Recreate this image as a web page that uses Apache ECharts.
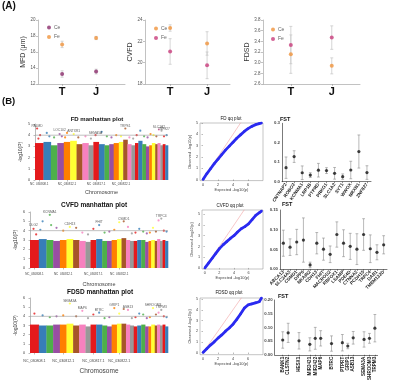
<!DOCTYPE html>
<html><head><meta charset="utf-8">
<script src="https://cdn.jsdelivr.net/npm/echarts@6/dist/echarts.min.js"></script>
<style>html,body{margin:0;padding:0;background:#fff}#c{width:398px;height:383px}</style>
</head><body><div id="c"></div>
<script>
// ---------------- Panel A data ----------------
const groups = ['T', 'J'];
const mfdCe = [13.25, 13.55], mfdCeSd = [0.4, 0.3];
const mfdFe = [16.95, 17.75], mfdFeSd = [0.4, 0.2];
const cvfdCe = [23.25, 21.8], cvfdCeSd = [0.3, 1.1];
const cvfdFe = [21.05, 19.75], cvfdFeSd = [1.2, 1.25];
const fdsdCe = [3.16, 2.94], fdsdCeSd = [0.36, 0.15];
const fdsdFe = [3.33, 3.47], fdsdFeSd = [0.35, 0.22];

// ---------------- Manhattan data ----------------
const chrLen = [157.4,136.5,120.0,120.7,119.0,117.6,108.4,112.7,90.6,101.0,106.2,87.3,83.0,94.6,81.9,79.4,71.8,67.3,62.5,71.8,69.4,60.4,49.3,62.3,42.9,51.3,45.4,46.3,51.3];
const chrColors = ['#E41A1C','#377EB8','#4DAF4A','#984EA3','#FF7F00','#FFFF33','#A65628','#F781BF','#999999'];
const chrTickIdx = [0, 4, 9, 14, 18];
const chrTickLabels = ['NC_030808.1','NC_030812.1','NC_030817.1','NC_030822.1','NC_030826.1'];
const fdBulk   = [3.3,3.4,3.1,3.3,3.4,3.5,3.2,3.3,3.1,3.4,3.2,3.1,3.2,3.3,3.4,3.6,3.2,3.1,3.3,3.5,3.2,3.0,3.1,3.3,3.2,3.3,3.1,3.2,3.1];
const cvfdBulk = [3.0,3.1,3.0,2.9,3.0,3.1,3.0,2.9,2.8,3.0,3.1,2.9,2.9,3.0,3.1,3.2,3.0,2.9,2.9,3.0,3.0,2.8,2.9,3.0,2.9,3.1,2.9,3.0,2.9];
const fdsdBulk = [3.1,3.0,3.0,3.1,3.1,3.2,3.0,3.1,2.9,3.1,3.1,3.0,2.9,3.1,3.2,3.2,3.1,3.0,2.9,3.0,3.1,2.9,2.9,3.1,3.0,3.1,3.0,3.1,2.9];
// hits: [chromosome index, relative position, -log10(P)]
const fdHits = [[0,0.25,4.6],[0,0.6,4.0],[0,0.4,3.7],[1,0.45,4.2],[1,0.8,3.9],[2,0.5,3.8],[3,0.35,4.1],[3,0.7,3.9],[4,0.5,4.2],[4,0.2,3.8],[5,0.55,4.1],[6,0.3,3.8],[7,0.5,3.9],[8,0.5,3.7],[9,0.4,4.0],[10,0.5,4.3],[11,0.5,3.9],[12,0.5,3.8],[13,0.5,4.0],[14,0.5,3.9],[15,0.5,4.6],[16,0.5,3.8],[17,0.5,3.7],[18,0.5,4.0],[19,0.5,4.4],[20,0.5,3.9],[21,0.5,3.8],[22,0.5,4.1],[23,0.5,4.0],[24,0.5,3.9],[25,0.5,4.5],[26,0.5,4.4],[27,0.5,3.9],[28,0.5,4.0]];
const cvfdHits = [[0,0.4,4.2],[0,0.7,3.6],[1,0.5,5.0],[1,0.2,4.1],[2,0.5,5.7],[2,0.7,4.6],[3,0.5,4.3],[4,0.5,4.0],[5,0.5,4.4],[6,0.5,4.3],[7,0.5,3.8],[8,0.5,3.6],[9,0.5,4.2],[10,0.5,4.6],[11,0.5,3.8],[12,0.5,3.9],[13,0.5,4.1],[14,0.5,4.9],[15,0.5,5.0],[16,0.5,4.4],[17,0.5,3.7],[18,0.5,3.8],[19,0.5,4.2],[20,0.5,3.9],[21,0.5,3.7],[22,0.5,3.8],[23,0.5,4.3],[24,0.5,3.9],[25,0.5,5.1],[26,0.5,5.3],[27,0.5,4.0],[28,0.5,3.9]];
const fdsdHits = [[0,0.5,4.3],[1,0.5,4.1],[2,0.5,3.9],[3,0.5,4.0],[4,0.5,4.1],[5,0.5,5.4],[6,0.5,4.0],[7,0.5,4.6],[8,0.5,3.8],[9,0.5,4.2],[10,0.5,4.4],[11,0.5,3.8],[12,0.5,3.9],[13,0.5,4.9],[14,0.5,4.3],[15,0.5,4.8],[16,0.5,4.7],[17,0.5,3.8],[18,0.5,3.9],[19,0.5,4.3],[20,0.5,4.2],[21,0.5,3.8],[22,0.5,3.9],[23,0.5,4.9],[24,0.5,4.2],[25,0.5,4.4],[26,0.5,4.7],[27,0.5,4.0],[28,0.5,3.9]];
const fdTags   = [[0,0.25,4.6,'PALMD'],[3,0.35,4.2,'LOC102'],[5,0.55,4.1,'ANTXR1'],[9,0.4,4.0,'SEMA5A'],[15,0.5,4.6,'TRPS1'],[25,0.5,4.5,'SLC1A2'],[27,0.5,4.3,'ZNF827']];
const cvfdTags = [[0,0.4,4.3,'DLG2'],[2,0.5,5.7,'KCNMA1'],[5,0.5,4.4,'CDH13'],[10,0.5,4.6,'FHIT'],[15,0.5,5.0,'CSMD1'],[26,0.5,5.3,'TRPC4']];
const fdsdTags = [[5,0.5,5.4,'SEMA3A'],[7,0.5,4.6,'MAP6'],[10,0.5,4.4,'BTRC'],[13,0.5,4.9,'GRIP1'],[16,0.5,4.7,'ASB13'],[23,0.5,4.9,'SHROOM3'],[26,0.5,4.7,'TRPM3']];

// ---------------- QQ data ----------------
const qqExp  = [0,0.5,1,1.5,2,2.5,3,3.5,4,4.5,5,5.5,6,6.5,7,7.5,7.8];
const fdQQ   = [0,0.5,0.95,1.4,1.8,2.2,2.6,2.95,3.3,3.65,3.95,4.25,4.5,4.7,4.85,4.95,5.0];
const cvfdQQ = [0,0.45,0.9,1.35,1.8,2.15,2.45,2.75,3.0,3.35,3.65,3.85,4.1,4.5,4.9,5.15,5.3];
const fdsdQQ = [0,0.35,0.7,1.0,1.35,1.65,2.0,2.3,2.65,3.1,3.6,4.15,4.45,4.55,4.65,4.75,5.1];

// ---------------- FST data ----------------
const fst1Genes = ['CNTNAP2','ROBO2','KCNMA1','LRP1B','PTPRD','PRKG1','SLC1A2','SYT1','WWOX','NRXN1','ZNF827'];
const fst1Val = [0.072,0.129,0.046,0.034,0.059,0.057,0.043,0.026,0.060,0.155,0.047];
const fst1Err = [0.055,0.030,0.035,0.012,0.035,0.015,0.030,0.014,0.045,0.085,0.035];
const fst2Genes = ['ABCA13','SLC24A3','CSMD1','DPP6','NKAIN2','CDH13','FHIT','MACROD2','RBFOX1','LSAMP','PDE4D','CTNNA2','PCDH15','TRPC4','DAB1','TMEM132D'];
const fst2Val = [0.066,0.056,0.069,0.074,0.011,0.066,0.051,0.038,0.088,0.066,0.058,0.051,0.088,0.052,0.043,0.062];
const fst2Err = [0.033,0.021,0.032,0.056,0.007,0.027,0.028,0.021,0.032,0.034,0.033,0.039,0.040,0.035,0.019,0.023];
const fst3Genes = ['','BANK1','CLSTN2','','HESX1','','MIR2421','MIR2422','MAP6','','BTRC','','PTPRT','GRIP1','ASB13','','SEMA3A','SHROOM3','TRPM3'];
const fst3Val = [null,0.054,0.080,null,0.051,null,0.038,0.060,0.060,null,0.041,null,0.044,0.032,0.062,null,0.056,0.060,0.097];
const fst3Err = [null,0.030,0.035,null,0.030,null,0.024,0.040,0.028,null,0.028,null,0.030,0.010,0.023,null,0.028,0.018,0.050];

// ---------------- helpers ----------------
const cum = []; let acc = 0; chrLen.forEach(l => { cum.push(acc); acc += l; }); const genomeLen = acc;
const chrTickVals = chrTickIdx.map(i => cum[i] + chrLen[i] / 2);
const FONT = 'Liberation Sans';
function errRender(color, cap, lw) {
  return function (params, api) {
    const x = api.value(0);
    const a = api.coord([x, api.value(1)]), b = api.coord([x, api.value(2)]);
    const st = { stroke: color, lineWidth: lw };
    return { type: 'group', children: [
      { type: 'line', shape: { x1: a[0], y1: a[1], x2: b[0], y2: b[1] }, style: st },
      { type: 'line', shape: { x1: a[0] - cap, y1: a[1], x2: a[0] + cap, y2: a[1] }, style: st },
      { type: 'line', shape: { x1: b[0] - cap, y1: b[1], x2: b[0] + cap, y2: b[1] }, style: st }
    ] };
  };
}
function rectRender(params, api) {
  const p0 = api.coord([api.value(0), api.value(2)]);
  const p1 = api.coord([api.value(1), 0]);
  return { type: 'rect', shape: { x: p0[0], y: p0[1], width: p1[0] - p0[0] + 0.3, height: p1[1] - p0[1] }, style: { fill: chrColors[api.value(3)] } };
}
const series = [];
function addA(gi, ce, ceSd, fe, feSd, ceColor, feColor, k) {
  const errs = [];
  [[ce, ceSd], [fe, feSd]].forEach(([v, s]) => v.forEach((m, i) => errs.push([i + 1, m - s[i], m + s[i]])));
  series.push({ type: 'custom', xAxisIndex: gi, yAxisIndex: gi, renderItem: errRender('#c4c4c4', 1.5, 0.7), data: errs, silent: true, z: 1 });
  series.push({ name: 'Ce' + k, type: 'scatter', xAxisIndex: gi, yAxisIndex: gi, symbolSize: 4, itemStyle: { color: ceColor }, data: ce.map((m, i) => [i + 1, m]), z: 3 });
  series.push({ name: 'Fe' + k, type: 'scatter', xAxisIndex: gi, yAxisIndex: gi, symbolSize: 4, itemStyle: { color: feColor }, data: fe.map((m, i) => [i + 1, m]), z: 3 });
}
function addManhattan(gi, bulk, hits, tags) {
  series.push({ type: 'custom', xAxisIndex: gi, yAxisIndex: gi, renderItem: rectRender, silent: true,
    data: chrLen.map((l, i) => [cum[i], cum[i] + l, bulk[i], i % 9]) });
  series.push({ type: 'scatter', xAxisIndex: gi, yAxisIndex: gi, symbolSize: 2.2, silent: true,
    data: hits.map(h => ({ value: [cum[h[0]] + h[1] * chrLen[h[0]], h[2]], itemStyle: { color: chrColors[h[0] % 9] } })) });
  series.push({ type: 'line', xAxisIndex: gi, yAxisIndex: gi, symbol: 'none', silent: true, lineStyle: { color: '#999', width: 0.6 }, data: [[0, 4], [genomeLen, 4]] });
  series.push({ type: 'scatter', xAxisIndex: gi, yAxisIndex: gi, symbolSize: 0, silent: true,
    label: { show: true, position: 'top', distance: 1, fontSize: 3.3, color: '#333', formatter: p => p.data.tag },
    data: tags.map(t => ({ value: [cum[t[0]] + t[1] * chrLen[t[0]], t[2]], tag: t[3] })) });
}
function addQQ(gi, obs) {
  series.push({ type: 'line', xAxisIndex: gi, yAxisIndex: gi, symbol: 'none', silent: true, lineStyle: { color: '#f2a3a3', width: 0.6 }, data: [[0, 0], [6, 6]] });
  series.push({ type: 'line', xAxisIndex: gi, yAxisIndex: gi, symbol: 'circle', symbolSize: 2.5, silent: true,
    lineStyle: { color: '#2a2af0', width: 2.8 }, itemStyle: { color: '#2a2af0' }, data: qqExp.map((e, i) => [e, obs[i]]) });
}
function addFst(gi, val, err) {
  series.push({ type: 'custom', xAxisIndex: gi, yAxisIndex: gi, renderItem: errRender('#8a8a8a', 1.4, 0.6), silent: true,
    data: val.map((v, i) => v == null ? null : [i, v - err[i], v + err[i]]).filter(d => d) });
  series.push({ type: 'scatter', xAxisIndex: gi, yAxisIndex: gi, symbolSize: 3.2, silent: true, itemStyle: { color: '#111' },
    data: val.map((v, i) => v == null ? null : [i, v]).filter(d => d) });
}

addA(0, mfdCe, mfdCeSd, mfdFe, mfdFeSd, '#8B2D6B', '#F0943C', 1);
addA(1, cvfdCe, cvfdCeSd, cvfdFe, cvfdFeSd, '#F0943C', '#C83C7C', 2);
addA(2, fdsdCe, fdsdCeSd, fdsdFe, fdsdFeSd, '#F0943C', '#C83C7C', 3);
addManhattan(3, fdBulk, fdHits, fdTags);
addQQ(4, fdQQ);
addFst(5, fst1Val, fst1Err);
addManhattan(6, cvfdBulk, cvfdHits, cvfdTags);
addQQ(7, cvfdQQ);
addFst(8, fst2Val, fst2Err);
addManhattan(9, fdsdBulk, fdsdHits, fdsdTags);
addQQ(10, fdsdQQ);
addFst(11, fst3Val, fst3Err);

// ---------------- axes ----------------
const grids = [
  { left: 38, top: 20, width: 87, height: 64 },
  { left: 145, top: 20, width: 85, height: 64 },
  { left: 263, top: 20, width: 97, height: 64 },
  { left: 35, top: 124, width: 133, height: 56 },
  { left: 200, top: 123, width: 63, height: 57.6, show: true, borderColor: '#888', borderWidth: 0.5 },
  { left: 282, top: 123.3, width: 89, height: 58.4 },
  { left: 30, top: 212, width: 138, height: 56 },
  { left: 202, top: 210, width: 61, height: 59, show: true, borderColor: '#888', borderWidth: 0.5 },
  { left: 280, top: 210, width: 107, height: 59.3 },
  { left: 30, top: 298, width: 138, height: 55 },
  { left: 200, top: 298, width: 63, height: 56.7, show: true, borderColor: '#888', borderWidth: 0.5 },
  { left: 274.6, top: 300, width: 103, height: 55.7 }
];
const xAxes = [], yAxes = [];
const grayLine = { show: true, onZero: false, lineStyle: { color: '#999', width: 0.6 } };
function aX(gi, min, max) {
  xAxes.push({ gridIndex: gi, type: 'value', min, max, axisLine: grayLine, splitLine: { show: false },
    axisTick: { customValues: [1, 2], length: 2, lineStyle: { color: '#999', width: 0.6 } },
    axisLabel: { customValues: [1, 2], formatter: v => groups[Math.round(v) - 1], fontSize: 11, fontWeight: 'bold', color: '#111', margin: 2 } });
}
function aY(gi, min, max, interval, name, dec) {
  yAxes.push({ gridIndex: gi, type: 'value', min, max, interval, axisLine: grayLine, splitLine: { show: false },
    axisTick: { length: 2, lineStyle: { color: '#999', width: 0.6 } },
    axisLabel: { fontSize: 4.5, color: '#555', margin: 2.5, formatter: v => v.toFixed(dec) },
    name, nameLocation: 'middle', nameGap: 9, nameTextStyle: { fontSize: 7, color: '#333' } });
}
aX(0, 0.29, 2.85); aY(0, 12, 20, 2, 'MFD (μm)', 0);
aX(1, 0.32, 2.62); aY(1, 18, 24, 2, 'CVFD', 0);
aX(2, 0.32, 2.69); aY(2, 2.6, 3.8, 0.2, 'FDSD', 1);

function mX(gi, margin, nameGap, lf, nf) {
  xAxes.push({ gridIndex: gi, type: 'value', min: 0, max: genomeLen, splitLine: { show: false },
    axisLine: { show: false },
    axisTick: { customValues: chrTickVals, length: 1.5, lineStyle: { color: '#777', width: 0.5 } },
    axisLabel: { customValues: chrTickVals, fontSize: lf, color: '#444', margin,
      formatter: v => { let b = 0; chrTickVals.forEach((c, i) => { if (Math.abs(c - v) < Math.abs(chrTickVals[b] - v)) b = i; }); return chrTickLabels[b]; } },
    name: 'Chromosome', nameLocation: 'middle', nameGap, nameTextStyle: { fontSize: nf, color: '#444' } });
}
function mY(gi, max) {
  yAxes.push({ gridIndex: gi, type: 'value', min: 0, max, interval: 1, offset: 3, splitLine: { show: false },
    axisLine: { show: true, lineStyle: { color: '#777', width: 0.5 } },
    axisTick: { length: 1.5, lineStyle: { color: '#777', width: 0.5 } },
    axisLabel: { fontSize: 3.8, color: '#444', margin: 2 },
    name: '-log10(P)', nameLocation: 'middle', nameGap: 9, nameTextStyle: { fontSize: 5, color: '#333' } });
}
function qX(gi) {
  xAxes.push({ gridIndex: gi, type: 'value', min: -0.4, max: 8, splitLine: { show: false }, axisLine: { show: false },
    axisTick: { customValues: [0, 2, 4, 6], length: 1.5, lineStyle: { color: '#777', width: 0.5 } },
    axisLabel: { customValues: [0, 2, 4, 6], fontSize: 3.8, color: '#444', margin: 2 },
    name: 'Expected -log10(p)', nameLocation: 'middle', nameGap: 7, nameTextStyle: { fontSize: 4, color: '#444' } });
}
function qY(gi, min, max) {
  yAxes.push({ gridIndex: gi, type: 'value', min, max, splitLine: { show: false }, axisLine: { show: false },
    axisTick: { customValues: [0, 1, 2, 3, 4, 5], length: 1.5, lineStyle: { color: '#777', width: 0.5 } },
    axisLabel: { customValues: [0, 1, 2, 3, 4, 5], fontSize: 3.8, color: '#444', margin: 2 },
    name: 'Observed -log10(p)', nameLocation: 'middle', nameGap: 6, nameTextStyle: { fontSize: 4, color: '#444' } });
}
function fX(gi, genes, rotate) {
  xAxes.push({ gridIndex: gi, type: 'category', data: genes, splitLine: { show: false },
    axisLine: { show: true, lineStyle: { color: '#222', width: 0.6 } },
    axisTick: { show: true, alignWithLabel: true, interval: (i, n) => n !== '', length: 1.5, lineStyle: { color: '#222', width: 0.5 } },
    axisLabel: { interval: 0, rotate, fontSize: 4.6, fontWeight: 'bold', color: '#222', margin: 2 } });
}
function fY(gi, max, interval, dec) {
  yAxes.push({ gridIndex: gi, type: 'value', min: 0, max, interval, splitLine: { show: false },
    axisLine: { show: true, lineStyle: { color: '#222', width: 0.6 } },
    axisTick: { length: 1.5, lineStyle: { color: '#222', width: 0.5 } },
    axisLabel: { fontSize: 4.3, fontWeight: 'bold', color: '#444', margin: 2, formatter: v => v.toFixed(dec) } });
}
mX(3, 3, 9, 3, 5.5); mY(3, 5);
qX(4); qY(4, -0.1, 5.0);
fX(5, fst1Genes, 55); fY(5, 0.3, 0.1, 1);
mX(6, 5, 13, 3, 5.5); mY(6, 6);
qX(7); qY(7, -0.1, 5.4);
fX(8, fst2Genes, 45); fY(8, 0.15, 0.05, 2);
mX(9, 6, 15, 3.6, 6.5); mY(9, 6);
qX(10); qY(10, -0.2, 5.1);
fX(11, fst3Genes, 90); fY(11, 0.2, 0.05, 2);

function legendAt(left, top, k) {
  return { left, top, orient: 'vertical', itemWidth: 4, itemHeight: 4, itemGap: 4.5, icon: 'circle', selectedMode: false,
    data: ['Ce' + k, 'Fe' + k], formatter: n => n.replace(/\d+$/, ''), textStyle: { fontSize: 5, color: '#666', padding: [0, 0, 0, -2] } };
}
function txt(x, y, text, size, bold, align) {
  return { type: 'text', x, y, silent: true, style: { text, fontSize: size, fontWeight: bold ? 'bold' : 'normal', fill: '#111', align: align || 'center', verticalAlign: 'middle', fontFamily: FONT } };
}
const graphics = [
  txt(2, 6, '(A)', 10, true, 'left'),
  txt(2, 101, '(B)', 9.5, true, 'left'),
  txt(97, 119, 'FD manhattan plot', 6, true),
  txt(231, 119, 'FD qq plot', 4.5, false),
  txt(280, 119, 'FST', 5.5, true, 'left'),
  txt(94, 205, 'CVFD manhattan plot', 6.5, true),
  txt(230, 206, 'CVFD qq plot', 4.5, false),
  txt(282, 204.5, 'FST', 5.5, true, 'left'),
  txt(100, 292, 'FDSD manhattan plot', 6.5, true),
  txt(229, 293, 'FDSD qq plot', 4.5, false),
  txt(278, 296, 'FST', 5.5, true, 'left')
];

const chart = echarts.init(document.getElementById('c'), null, { renderer: 'canvas' });
chart.setOption({
  animation: false, backgroundColor: '#fff', textStyle: { fontFamily: FONT },
  grid: grids, xAxis: xAxes, yAxis: yAxes, series,
  legend: [legendAt(42, 20, 1), legendAt(149, 21, 2), legendAt(266, 22, 3)],
  graphic: graphics
});
</script></body></html>
